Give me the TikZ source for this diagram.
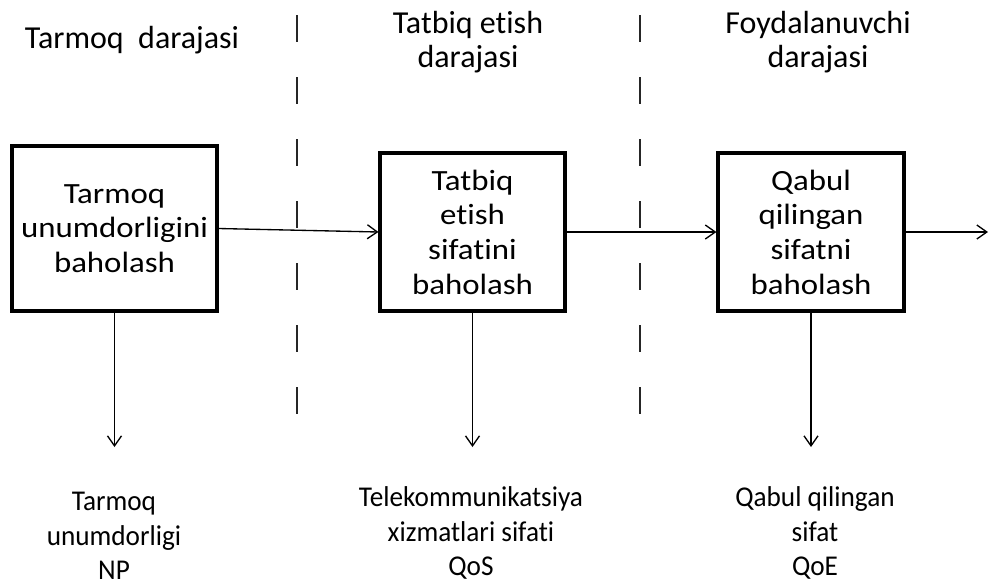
\documentclass[tikz,border=0pt]{standalone}
\usepackage{fontspec}
\setmainfont{Carlito}[Ligatures=NoCommon]
\newfontfamily\boxfont{Carlito}[Ligatures=NoCommon, FakeStretch=1.12]
\newfontfamily\resultfont{Carlito}[Ligatures=NoCommon, FakeStretch=0.95]
\usetikzlibrary{arrows.meta}
\begin{document}
\begin{tikzpicture}[x=0.75pt,y=-0.75pt,
  every node/.style={font=\fontsize{24}{26}\selectfont, align=center, inner sep=0pt},
  stage/.style={draw, line width=2.3pt, minimum width=#1, font=\boxfont\fontsize{22}{26}\selectfont},
  flow/.style={line width=1pt, -{Straight Barb[length=7.5pt,width=10.5pt]}},
  divider/.style={line width=1.5pt, draw=black!85, dash pattern=on 20.25pt off 26.25pt},
  result/.style={font=\resultfont\fontsize{21.5}{26}\selectfont, anchor=south}]
\useasboundingbox (0,0) rectangle (989,583);

% level headings
\node (hnet) at (132,40) {Tarmoq\ \ darajasi};
\node (happ) at (468,42) {Tatbiq etish\\darajasi};
\node (husr) at (818,42) {Foydalanuvchi\\darajasi};

% level dividers
\coordinate (d1top) at (297,15);
\coordinate (d1bot) at (297,415);
\coordinate (d2top) at (640,15);
\coordinate (d2bot) at (640,415);
\draw[divider] (d1top) -- (d1bot);
\draw[divider] (d2top) -- (d2bot);

% assessment stages
\node[stage=153.75pt, minimum height=123.75pt] (np)  at (114.5,228.5) {Tarmoq\\unumdorligini\\baholash};
\node[stage=138.75pt, minimum height=118.5pt]  (qos) at (472.5,232)   {Tatbiq\\etish\\sifatini\\baholash};
\node[stage=139.5pt,  minimum height=118.5pt]  (qoe) at (811,232)     {Qabul\\qilingan\\sifatni\\baholash};

% results
\node[result] (rnp)  at (114,580) {Tarmoq\\unumdorligi\\NP};
\node[result] (rqos) at (471,580) {Telekommunikatsiya\\xizmatlari sifati\\QoS};
\node[result] (rqoe) at (815,580) {Qabul qilingan\\sifat\\QoE};

% arrow ends above the results
\coordinate (enp)  at (114.5,447);
\coordinate (eqos) at (472.5,447);
\coordinate (eqoe) at (811,447);
\coordinate (out)  at (988,232);

% connectors
\draw[flow] (np.east) -- (qos.west);
\draw[flow] (qos.east) -- (qoe.west);
\draw[flow] (qoe.east) -- (out);
\draw[flow] (np.south) -- (enp);
\draw[flow] (qos.south) -- (eqos);
\draw[flow] (qoe.south) -- (eqoe);
\end{tikzpicture}
\end{document}
